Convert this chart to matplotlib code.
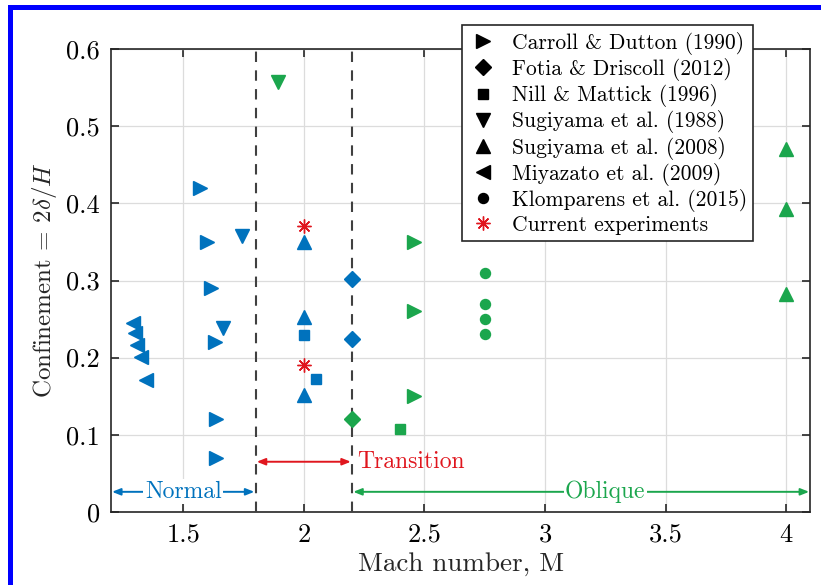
import matplotlib
matplotlib.use('Agg')
import matplotlib.pyplot as plt
from matplotlib.lines import Line2D
from matplotlib.patches import Rectangle

plt.rcParams['font.family'] = 'serif'
plt.rcParams['font.serif'] = ['cmr10']
plt.rcParams['mathtext.fontset'] = 'cm'
plt.rcParams['axes.formatter.use_mathtext'] = True

BLUE = '#0072BD'
GREEN = '#1BA64D'
RED = '#E0161E'

# Carroll & Dutton (1990)
carroll_blue_m = [1.57, 1.60, 1.615, 1.63, 1.635, 1.635]
carroll_blue_c = [0.42, 0.35, 0.29, 0.22, 0.12, 0.07]
carroll_green_m = [2.455, 2.455, 2.455]
carroll_green_c = [0.35, 0.26, 0.15]

# Fotia & Driscoll (2012)
fotia_blue_m = [2.2, 2.2]
fotia_blue_c = [0.302, 0.224]
fotia_green_m = [2.2]
fotia_green_c = [0.121]

# Nill & Mattick (1996)
nill_blue_m = [2.0, 2.05]
nill_blue_c = [0.229, 0.172]
nill_green_m = [2.4]
nill_green_c = [0.108]

# Sugiyama et al. (1988)
sug88_blue_m = [1.745, 1.667]
sug88_blue_c = [0.358, 0.238]
sug88_green_m = [1.895]
sug88_green_c = [0.558]

# Sugiyama et al. (2008)
sug08_blue_m = [2.0, 2.0, 2.0]
sug08_blue_c = [0.35, 0.253, 0.152]
sug08_green_m = [4.0, 4.0, 4.0]
sug08_green_c = [0.471, 0.393, 0.282]

# Miyazato et al. (2009)
miya_m = [1.29, 1.30, 1.31, 1.324, 1.344]
miya_c = [0.245, 0.232, 0.216, 0.201, 0.171]

# Klomparens et al. (2015)
klom_m = [2.75, 2.75, 2.75, 2.75]
klom_c = [0.31, 0.27, 0.25, 0.23]

# Current experiments
curr_m = [2.0, 2.0]
curr_c = [0.371, 0.19]

legend_labels = ['Carroll & Dutton (1990)', 'Fotia & Driscoll (2012)',
                 'Nill & Mattick (1996)', 'Sugiyama et al. (1988)',
                 'Sugiyama et al. (2008)', 'Miyazato et al. (2009)',
                 'Klomparens et al. (2015)', 'Current experiments']

fig = plt.figure(figsize=(8.21, 5.85), dpi=100)
ax = fig.add_axes([0.135, 0.125, 0.852, 0.791])

# blue frame on left and top
fig.patches.append(Rectangle((0.0098, 0), 0.0061, 0.992, transform=fig.transFigure,
                             facecolor='#0000FF', edgecolor='none'))
fig.patches.append(Rectangle((0.0098, 0.9829), 0.9902, 0.0086, transform=fig.transFigure,
                             facecolor='#0000FF', edgecolor='none'))

ms_tri = 9.5
ms_dia = 8.5
ax.plot(carroll_blue_m, carroll_blue_c, '>', color=BLUE, ms=ms_tri, ls='none', zorder=5)
ax.plot(carroll_green_m, carroll_green_c, '>', color=GREEN, ms=ms_tri, ls='none', zorder=5)
ax.plot(fotia_blue_m, fotia_blue_c, 'D', color=BLUE, ms=ms_dia, ls='none', zorder=5)
ax.plot(fotia_green_m, fotia_green_c, 'D', color=GREEN, ms=ms_dia, ls='none', zorder=5)
ax.plot(nill_blue_m, nill_blue_c, 's', color=BLUE, ms=7.5, ls='none', zorder=5)
ax.plot(nill_green_m, nill_green_c, 's', color=GREEN, ms=7.5, ls='none', zorder=5)
ax.plot(sug88_blue_m, sug88_blue_c, 'v', color=BLUE, ms=ms_tri, ls='none', zorder=5)
ax.plot(sug88_green_m, sug88_green_c, 'v', color=GREEN, ms=ms_tri, ls='none', zorder=5)
ax.plot(sug08_blue_m, sug08_blue_c, '^', color=BLUE, ms=ms_tri, ls='none', zorder=5)
ax.plot(sug08_green_m, sug08_green_c, '^', color=GREEN, ms=ms_tri, ls='none', zorder=5)
ax.plot(miya_m, miya_c, '<', color=BLUE, ms=ms_tri, ls='none', zorder=5)
ax.plot(klom_m, klom_c, 'o', color=GREEN, ms=7.2, ls='none', zorder=5)
ax.plot(curr_m, curr_c, marker=(8, 2, 0), color=RED, mec=RED, mew=1.0, ms=10,
        ls='none', zorder=6)

# regime boundaries
for xb in [1.8, 2.2]:
    ax.axvline(xb, color='#404040', ls=(0, (5, 4)), lw=1.5, zorder=3)

arrow_kw = dict(arrowstyle='<|-|>,head_length=0.5,head_width=0.2', lw=1.4,
                shrinkA=0, shrinkB=0)

# Normal
ax.annotate('', xy=(1.205, 0.026), xytext=(1.795, 0.026),
            arrowprops=dict(color=BLUE, **arrow_kw), zorder=4)
ax.text(1.5, 0.026, 'Normal', color=BLUE, fontsize=17, ha='center', va='center',
        bbox=dict(facecolor='white', edgecolor='none', pad=1), zorder=4)

# Transition
ax.annotate('', xy=(1.805, 0.065), xytext=(2.195, 0.065),
            arrowprops=dict(color=RED, **arrow_kw), zorder=4)
ax.text(2.223, 0.065, 'Transition', color=RED, fontsize=17, ha='left', va='center',
        zorder=4)

# Oblique
ax.annotate('', xy=(2.205, 0.026), xytext=(4.095, 0.026),
            arrowprops=dict(color=GREEN, **arrow_kw), zorder=4)
ax.text(3.25, 0.026, 'Oblique', color=GREEN, fontsize=17, ha='center', va='center',
        bbox=dict(facecolor='white', edgecolor='none', pad=1), zorder=4)

ax.set_xlim(1.2, 4.1)
ax.set_ylim(0, 0.6)
ax.set_xticks([1.5, 2, 2.5, 3, 3.5, 4])
ax.set_xticklabels(['1.5', '2', '2.5', '3', '3.5', '4'])
ax.set_yticks([0, 0.1, 0.2, 0.3, 0.4, 0.5, 0.6])
ax.set_yticklabels(['0', '0.1', '0.2', '0.3', '0.4', '0.5', '0.6'])
ax.grid(True, color='#DCDCDC', lw=0.9)
ax.set_axisbelow(True)
ax.tick_params(direction='in', length=6, width=1.2, top=True, right=True,
               labelsize=19, pad=8, color='#262626')
for sp in ax.spines.values():
    sp.set_linewidth(1.2)
    sp.set_color('#262626')

ax.set_xlabel('Mach number, M', fontsize=19.5, labelpad=4, color='#262626')
ax.set_ylabel(r'Confinement = $2\delta/H$', fontsize=18, labelpad=5, color='#262626')

handles = [
    Line2D([], [], marker='>', color='k', ls='none', ms=ms_tri),
    Line2D([], [], marker='D', color='k', ls='none', ms=ms_dia),
    Line2D([], [], marker='s', color='k', ls='none', ms=7.5),
    Line2D([], [], marker='v', color='k', ls='none', ms=ms_tri),
    Line2D([], [], marker='^', color='k', ls='none', ms=ms_tri),
    Line2D([], [], marker='<', color='k', ls='none', ms=ms_tri),
    Line2D([], [], marker='o', color='k', ls='none', ms=7.2),
    Line2D([], [], marker=(8, 2, 0), color=RED, mec=RED, mew=1.0, ls='none', ms=10),
]
leg = fig.legend(handles, legend_labels, loc='upper left',
                 bbox_to_anchor=(0.563, 0.957), fontsize=15.5, frameon=True,
                 fancybox=False, edgecolor='#262626', framealpha=1,
                 handlelength=1.3, handletextpad=0.7, labelspacing=0.15,
                 borderpad=0.3, borderaxespad=0)
leg.get_frame().set_linewidth(1.2)
leg.set_zorder(10)

fig.savefig('out.png', dpi=100)
